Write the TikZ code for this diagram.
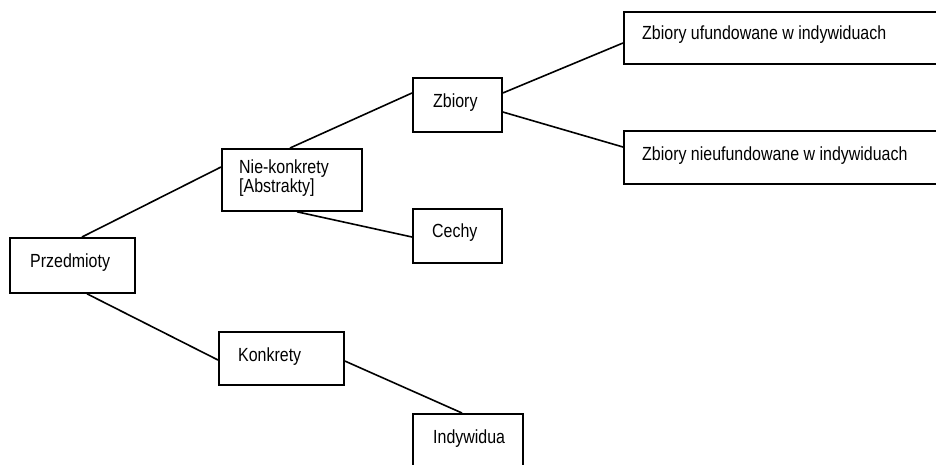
\documentclass[tikz,border=0pt]{standalone}
\usepackage{fontspec}
\setmainfont[FakeStretch=0.84]{Liberation Sans}
\usetikzlibrary{calc}
\tikzset{
  box/.style={draw=black, line width=1.8pt, rectangle, anchor=north west, inner sep=0pt, fill=none},
  lbl/.style={anchor=base west, inner sep=0pt, font=\fontsize{19}{19}\selectfont, align=left},
  conn/.style={draw=black, line width=1.6pt}
}
\begin{document}
\begin{tikzpicture}[x=1pt, y=-1pt]
\path[use as bounding box, clip] (0,0) rectangle (936,464);
\fill[white] (0,0) rectangle (936,464);
% boxes
\node[box, minimum width=125pt, minimum height=55pt] (prz) at (9,237) {};
\node[box, minimum width=140pt, minimum height=62pt] (nk) at (221,148) {};
\node[box, minimum width=89pt, minimum height=54pt] (zb) at (412,77) {};
\node[box, minimum width=89pt, minimum height=54pt] (ce) at (412,208) {};
\node[box, minimum width=125pt, minimum height=53pt] (ko) at (218,331) {};
\node[box, minimum width=110pt, minimum height=67pt] (ind) at (412,413) {};
\node[box, minimum width=337pt, minimum height=52pt] (zu) at (623,11) {};
\node[box, minimum width=337pt, minimum height=53pt] (zn) at (623,130) {};
% texts
\node[lbl] (prz-t) at (30,267) {Przedmioty};
\node[lbl, anchor=north west] (nk-t) at (239,160) {Nie-konkrety\\{[}Abstrakty{]}};
\node[lbl] (zb-t) at (433,107) {Zbiory};
\node[lbl] (ce-t) at (432,237) {Cechy};
\node[lbl] (ko-t) at (238,361) {Konkrety};
\node[lbl] (ind-t) at (433,443) {Indywidua};
\node[lbl] (zu-t) at (642,39) {Zbiory ufundowane w indywiduach};
\node[lbl] (zn-t) at (642,160) {Zbiory nieufundowane w indywiduach};
% connectors
\draw[conn] ($(prz.north west)+(73,0)$) -- ($(nk.north west)+(0,19)$);
\draw[conn] ($(prz.south west)+(78,0)$) -- ($(ko.north west)+(0,29)$);
\draw[conn] ($(nk.north west)+(69,0)$) -- ($(zb.north west)+(0,16)$);
\draw[conn] ($(nk.south west)+(76,0)$) -- ($(ce.north west)+(0,29)$);
\draw[conn] ($(ko.north east)+(0,30)$) -- ($(ind.north west)+(50,0)$);
\draw[conn] ($(zb.north east)+(0,16)$) -- ($(zu.north west)+(0,32)$);
\draw[conn] ($(zb.north east)+(0,35)$) -- ($(zn.north west)+(0,17)$);
\end{tikzpicture}
\end{document}
